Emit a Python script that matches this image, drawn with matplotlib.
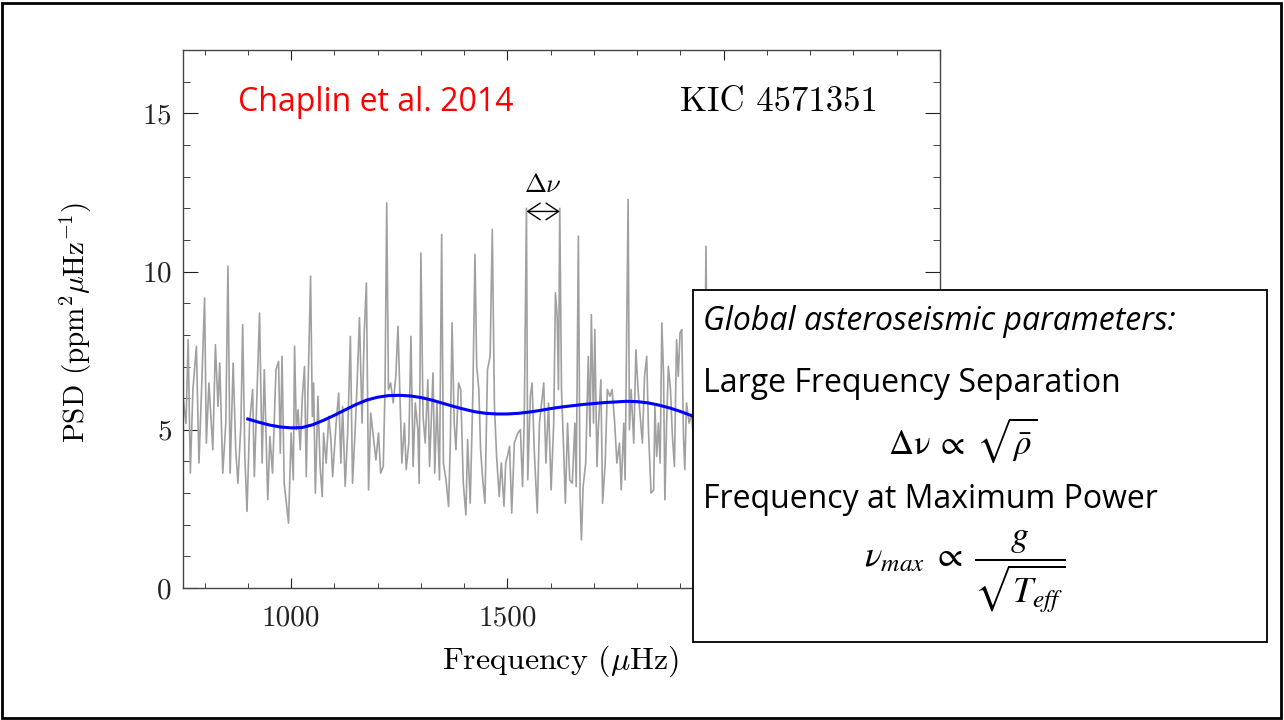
import matplotlib.pyplot as plt
from matplotlib.patches import Rectangle
from matplotlib.ticker import MultipleLocator

plt.rcParams["font.family"] = "cmr10"
plt.rcParams["mathtext.fontset"] = "cm"
plt.rcParams["axes.formatter.use_mathtext"] = True

# power spectrum (muHz, ppm^2/muHz)
freq = [750, 757, 762, 767, 773, 781, 787, 793, 800, 804, 810, 819, 825, 831, 835, 842, 849, 854, 859, 866,
        872, 877, 884, 888, 893, 898, 904, 911, 915, 921, 927, 933, 938, 946, 951, 957, 965, 971, 975, 979,
        984, 994, 1000,
        1005, 1008, 1012, 1016, 1021, 1026, 1031, 1035, 1039, 1045, 1049, 1052, 1056, 1062, 1067, 1072, 1075,
        1081, 1087, 1092, 1096, 1104, 1110, 1115, 1119, 1125, 1131, 1137, 1142, 1148, 1152, 1158, 1164, 1169,
        1174, 1179, 1184, 1190, 1196, 1202, 1207, 1213, 1217, 1221, 1225, 1230, 1236, 1242, 1247,
        1256, 1262, 1266, 1272, 1277, 1282, 1287, 1293, 1296, 1300, 1305, 1310, 1316, 1320, 1328, 1332, 1337,
        1343, 1348, 1352, 1358, 1364, 1368, 1372, 1377, 1381, 1387, 1392, 1398, 1404, 1408, 1414, 1420, 1425,
        1429, 1434, 1438, 1443, 1448, 1454, 1460, 1465, 1470, 1475, 1481, 1486, 1492, 1496,
        1500, 1505, 1510, 1516, 1524, 1530, 1535, 1539, 1544, 1547, 1553, 1557, 1562, 1569, 1574, 1579, 1584,
        1589, 1595, 1601, 1607, 1611, 1615, 1618, 1621, 1625, 1630, 1634, 1639, 1644, 1650, 1656, 1659, 1664,
        1668, 1671, 1675, 1681, 1687, 1691, 1694, 1699, 1702, 1707, 1710, 1716, 1720, 1726, 1731, 1737, 1742,
        1748, 1753, 1759, 1763, 1769, 1772, 1779, 1782, 1786, 1792, 1797, 1802, 1807, 1812, 1817, 1822, 1826,
        1832, 1838, 1841, 1845, 1849, 1853, 1857, 1861, 1864, 1868, 1872, 1877, 1881, 1886, 1891, 1895, 1899,
        1903, 1907, 1910, 1914, 1920,
        1926, 1932, 1938, 1944, 1950, 1955, 1959, 1963, 1968, 1974, 1980]
psd = [6.05, 5.2, 7.85, 3.63, 6.27, 7.64, 3.95, 6.27, 9.17, 4.58, 6.48, 4.37, 7.69, 5.74, 7.11, 3.63, 5.21,
       10.17, 3.63, 7.11, 4.37, 3.31, 5.2, 8.32, 4.16, 2.42, 5.21, 6.27, 3.52, 6.06, 8.69, 3.95, 6.9, 2.79,
       4.79, 3.63, 6.9, 7.16, 4.26, 7.32, 3.31, 2.05, 4.9,
       3.42, 7.64, 5.0, 5.63, 4.37, 6.06, 7.0, 3.52, 6.27, 9.85, 5.42, 6.48, 3.0, 6.06, 3.84, 2.89, 4.9, 3.95,
       5.42, 4.69, 3.52, 5.21, 6.16, 3.95, 5.74, 3.21, 5.0, 7.95, 3.31, 5.0, 6.27, 8.54, 5.21, 8.06, 9.64, 3.1,
       5.53, 4.79, 4.05, 4.9, 3.63, 3.84, 6.27, 12.17, 6.27, 6.48, 5.85, 6.69, 8.27,
       3.95, 5.21, 3.74, 4.58, 7.95, 3.84, 5.85, 5.0, 3.31, 10.59, 5.42, 4.58, 6.58, 3.84, 6.8, 3.63, 5.85,
       3.42, 11.17, 3.95, 3.42, 2.58, 4.58, 8.38, 5.21, 4.37, 6.48, 6.27, 3.31, 2.31, 4.69, 2.68, 6.06, 10.54,
       7.0, 6.27, 4.37, 3.42, 2.68, 6.9, 7.32, 11.33, 5.74, 4.16, 2.89, 3.95, 2.58, 3.95,
       4.16, 4.48, 2.37, 4.58, 4.9, 5.0, 3.21, 5.42, 12.0, 3.42, 6.06, 6.48, 4.37, 2.37, 5.21, 5.85, 6.48,
       3.95, 5.85, 3.1, 5.21, 9.33, 8.59, 6.27, 12.0, 6.27, 4.37, 2.68, 5.21, 3.42, 3.31, 5.21, 3.21, 11.12,
       2.89, 1.52, 3.21, 3.95, 7.32, 4.79, 8.64, 5.21, 8.17, 3.84, 5.0, 6.58, 2.68, 3.95, 6.27, 6.06, 6.27,
       5.21, 3.95, 4.58, 3.1, 5.21, 3.42, 12.28, 5.0, 6.27, 4.58, 7.53, 6.27, 5.42, 4.58, 6.69, 7.32, 5.0,
       3.0, 3.1, 5.74, 4.16, 5.21, 3.95, 8.38, 6.69, 2.79, 5.21, 7.0, 6.27, 4.9, 3.84, 7.85, 6.69, 8.06,
       8.17, 4.79, 3.74, 5.85, 5.21,
       5.5, 4.2, 6.3, 3.8, 5.9, 4.4, 10.8, 4.6, 5.8, 3.9, 5.2]

# smoothed background
bg_freq = [900, 925, 950, 975, 1000, 1025, 1050, 1075, 1100, 1125, 1150, 1175, 1200, 1225, 1250, 1275,
           1300, 1325, 1350, 1375, 1400, 1425, 1450, 1475, 1500, 1525, 1550, 1575, 1600, 1625, 1650,
           1675, 1700, 1725, 1750, 1775, 1800, 1825, 1850, 1875, 1900, 1925, 1950]
bg_psd = [5.34, 5.24, 5.15, 5.09, 5.06, 5.07, 5.16, 5.3, 5.46, 5.63, 5.8, 5.94, 6.03, 6.08, 6.09, 6.07,
          6.02, 5.94, 5.84, 5.74, 5.65, 5.57, 5.52, 5.5, 5.5, 5.52, 5.56, 5.61, 5.67, 5.72, 5.76,
          5.8, 5.83, 5.86, 5.88, 5.9, 5.89, 5.85, 5.78, 5.69, 5.58, 5.45, 5.32]

# large separation marker
dnu_left, dnu_right, dnu_height = 1544, 1621, 11.9

xticks = [1000, 1500, 2000, 2500]
xtick_labels = ["1000", "1500", "2000", ""]

fig = plt.figure(figsize=(12.84, 7.2), dpi=100)
ax = fig.add_axes([0.1425, 0.1833, 0.5896, 0.7472])

ax.plot(freq, psd, color="#a0a0a0", lw=1.2, zorder=2)
ax.plot(bg_freq, bg_psd, color="#0000ff", lw=2.2, zorder=3)

ax.annotate("", xy=(dnu_left, dnu_height), xytext=(dnu_right, dnu_height),
            arrowprops=dict(arrowstyle="<->,head_length=0.45,head_width=0.3", color="black",
                            lw=1.0, mutation_scale=20, shrinkA=0, shrinkB=0))
ax.text((dnu_left + dnu_right) / 2, dnu_height + 0.45, r"$\Delta\nu$", ha="center", va="bottom",
        fontsize=19)

ax.text(877, 15.35, "Chaplin et al. 2014", color="red", family="Open Sans", fontsize=23,
        va="center")
ax.text(1900, 15.35, "KIC 4571351", fontsize=25, va="center")

ax.set_xlim(750, 2500)
ax.set_ylim(0, 17)
ax.set_xticks(xticks, xtick_labels)
ax.xaxis.set_minor_locator(MultipleLocator(100))
ax.yaxis.set_major_locator(MultipleLocator(5))
ax.yaxis.set_minor_locator(MultipleLocator(1))
ax.tick_params(which="both", direction="in", top=True, right=True, labelsize=21, colors="#222222")
ax.tick_params(axis="x", which="major", length=7, pad=12)
ax.tick_params(axis="x", which="minor", length=3.5)
ax.tick_params(axis="y", which="major", length=11, pad=8)
ax.tick_params(axis="y", which="minor", length=5)
for s in ax.spines.values():
    s.set_color("#444444")
    s.set_linewidth(1.0)

ax.set_xlabel(r"Frequency ($\mu$Hz)", fontsize=23)
ax.set_ylabel(r"PSD (ppm$^2\mu$Hz$^{-1}$)", fontsize=21)
ax.xaxis.set_label_coords(0.498, -0.104)
ax.yaxis.set_label_coords(-0.118, 0.494)

# parameter box drawn over the plot
W, H = 1284, 720
fig.add_artist(Rectangle((693 / W, 1 - 642 / H), (1267 - 693) / W, (642 - 290) / H,
                         transform=fig.transFigure, facecolor="white", edgecolor="black",
                         lw=1.3, zorder=5))
box_font = dict(family="Open Sans", fontsize=23, va="center", zorder=6)
fig.text(703 / W, 1 - 322 / H, "Global asteroseismic parameters:", style="italic", **box_font)
fig.text(703 / W, 1 - 383 / H, "Large Frequency Separation", **box_font)
fig.text(703 / W, 1 - 500 / H, "Frequency at Maximum Power", **box_font)
fig.text(963 / W, 1 - 440 / H, r"$\mathrm{\Delta\nu} \;\propto\; \sqrt{\bar{\rho}}$", fontsize=25,
         ha="center", va="center", math_fontfamily="stix", zorder=6)
fig.text(965 / W, 1 - 572 / H, r"$\nu_{max} \;\propto\; \dfrac{g}{\sqrt{T_{eff}}}$", fontsize=26,
         ha="center", va="center", math_fontfamily="stix", zorder=6)

# slide frame
fig.add_artist(Rectangle((2 / W, 2 / H), 1279 / W, 715 / H, transform=fig.transFigure,
                         facecolor="none", edgecolor="black", lw=2, zorder=7))

fig.savefig("out.png", dpi=100)
